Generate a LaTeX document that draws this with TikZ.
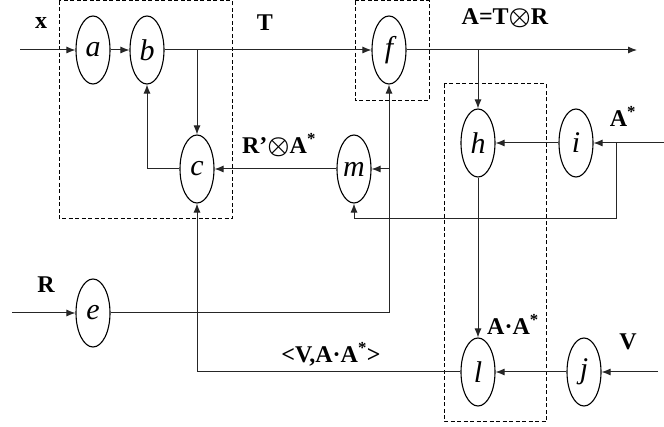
\documentclass[tikz,border=0pt]{standalone}
\usepackage{amsmath}
\usepackage{fontspec}
\setmainfont{Liberation Serif}
\usetikzlibrary{shapes,arrows.meta}

\begin{document}
\begin{tikzpicture}[
    x=1pt, y=-1pt,
    unit/.style={draw, ellipse, line width=1.1pt, minimum width=34pt, minimum height=68pt, inner sep=0pt, font=\fontsize{30}{30}\selectfont\itshape},
    lbl/.style={inner sep=1pt, font=\fontsize{24}{24}\selectfont\bfseries},
    arrow/.style={-{Latex[length=9pt,width=7pt]}, draw=black!85, line width=1pt},
    group/.style={draw, line width=1pt, dash pattern=on 4pt off 2.5pt}
]
    \useasboundingbox (0,0) rectangle (664,427);

    % processing units
    \node[unit] (a) at (93,50) {a};
    \node[unit] (b) at (147,50) {b};
    \node[unit] (c) at (197,169) {c};
    \node[unit] (f) at (389,50) {f};
    \node[unit] (m) at (354,169) {m};
    \node[unit] (h) at (478,143) {h};
    \node[unit] (i) at (576,143) {i};
    \node[unit] (e) at (93,313) {e};
    \node[unit] (l) at (478,372) {l};
    \node[unit] (j) at (584,372) {j};

    % dashed groups
    \draw[group] (59,1) rectangle (232,219);
    \draw[group] (355,1) rectangle (429,101);
    \draw[group] (444,84) rectangle (546,422);

    % free ends
    \coordinate (xin) at (20,50);
    \coordinate (aout) at (637,50);
    \coordinate (ain) at (664,143);
    \coordinate (abr) at (616,143);
    \coordinate (turn) at (354,219);
    \coordinate (rin) at (12,313);
    \coordinate (vin) at (658,372);

    % labels
    \node[lbl] (xl) at (41,23) {x};
    \node[lbl] (tl) at (265,23) {T};
    \node[lbl] (al) at (505,18) {A=T$\boldsymbol{\otimes}$R};
    \node[lbl] (rtl) at (279,145) {R’$\boldsymbol{\otimes}$A\textsuperscript{*}};
    \node[lbl] (asl) at (623,116) {A\textsuperscript{*}};
    \node[lbl] (rl) at (46,285) {R};
    \node[lbl] (aal) at (513,324) {A·A\textsuperscript{*}};
    \node[lbl] (vl) at (628,342) {V};
    \node[lbl] (vaal) at (331,354) {<V,A·A\textsuperscript{*}>};

    \draw[arrow] (xin) -- (a);
    \draw[arrow] (a) -- (b);
    \draw[arrow] (b) -- (f);
    \draw[arrow] (f) -- (aout);
    \draw[arrow] (c |- b) -- (c);
    \draw[arrow] (c) -| (b);
    \draw[arrow] (m) -- (c);
    \draw[arrow] (e) -| (f);
    \draw[arrow] (f |- m) -- (m);
    \draw[arrow] (h |- f) -- (h);
    \draw[arrow] (ain) -- (i);
    \draw[arrow] (i) -- (h);
    \draw[arrow] (abr) |- (turn) -- (m);
    \draw[arrow] (h) -- (l);
    \draw[arrow] (vin) -- (j);
    \draw[arrow] (j) -- (l);
    \draw[arrow] (l) -| (c);
    \draw[arrow] (rin) -- (e);
\end{tikzpicture}
\end{document}
